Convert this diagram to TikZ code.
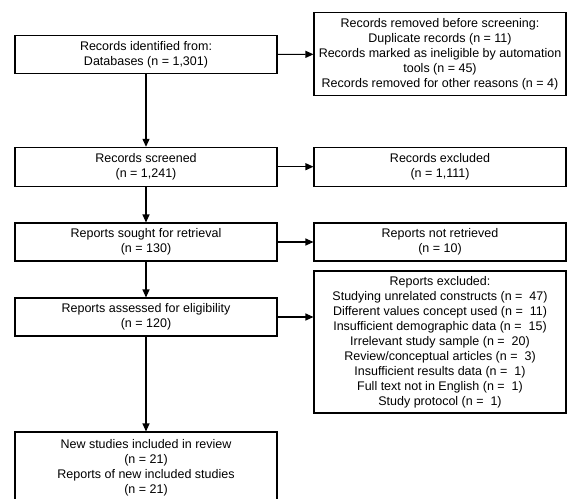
\documentclass[tikz,border=0pt]{standalone}
\usepackage{fontspec}
\setmainfont{Liberation Sans}
\usetikzlibrary{arrows.meta}
\tikzset{box/.style={draw, line width=1.1pt, align=center, inner sep=0pt,
   font=\fontsize{12.5}{15}\selectfont},
 lbox/.style={box, minimum width=262pt},
 rbox/.style={box, minimum width=252pt},
 flow/.style={line width=1.1pt, -{Triangle[length=8pt,width=7pt]}},
 }

\begin{document}
\begin{tikzpicture}[x=1pt, y=-1pt]
        \useasboundingbox (0, 0) rectangle (567, 498);
        \node[lbox, minimum height=37.6pt] (ident) at (146, 54.5) {Records identified from:\\Databases (n = 1,301)};
        \node[rbox, minimum height=83pt] (removed) at (440, 54.2) {Records removed before screening:\\Duplicate records (n = 11)\\Records marked as ineligible by automation\\tools (n = 45)\\Records removed for other reasons (n = 4)};
        \node[lbox, minimum height=38.7pt] (screened) at (146, 166.7) {Records screened\\(n = 1,241)};
        \node[rbox, minimum height=38.7pt] (excluded) at (440, 166.7) {Records excluded\\(n = 1,111)};
        \node[lbox, minimum height=38pt] (sought) at (146, 242) {Reports sought for retrieval\\(n = 130)};
        \node[rbox, minimum height=38pt] (notretr) at (440, 242) {Reports not retrieved\\(n = 10)};
        \node[lbox, minimum height=38pt] (assessed) at (146, 317) {Reports assessed for eligibility\\(n = 120)};
        \node[rbox, minimum height=142pt] (repexcl) at (440, 342) {Reports excluded:\\Studying unrelated constructs (n =~ 47)\\Different values concept used (n =~ 11)\\Insufficient demographic data (n =~ 15)\\Irrelevant study sample (n =~ 20)\\Review/conceptual articles (n =~ 3)\\Insufficient results data (n =~ 1)\\Full text not in English (n =~ 1)\\Study protocol (n =~ 1)};
        \node[lbox, minimum height=71pt] (included) at (146, 467.5) {New studies included in review\\(n = 21)\\Reports of new included studies\\(n = 21)};
        % connectors
        \draw[flow] (ident) -- (removed);
        \draw[flow] (ident) -- (screened);
        \draw[flow] (screened) -- (excluded);
        \draw[flow] (screened) -- (sought);
        \draw[flow] (sought) -- (notretr);
        \draw[flow] (sought) -- (assessed);
        \draw[flow] (assessed.east) -- (assessed.east -| repexcl.west);
        \draw[flow] (assessed) -- (included);
    \end{tikzpicture}
\end{document}
